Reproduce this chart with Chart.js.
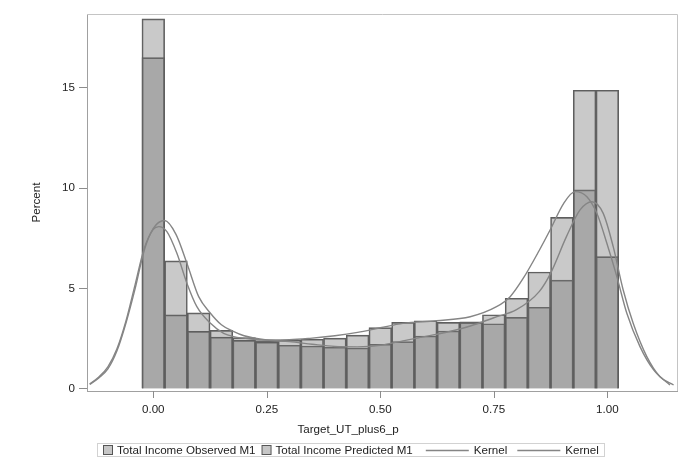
<!DOCTYPE html>
<html>
<head>
<meta charset="utf-8">
<script src="https://cdn.jsdelivr.net/npm/chart.js@4.4.0/dist/chart.umd.min.js"></script>
<style>
html,body{margin:0;padding:0;background:#fff;}
#wrap{width:682px;height:469px;position:relative;}
</style>
</head>
<body>
<div id="wrap"><canvas id="c" width="682" height="469"></canvas></div>
<script>
// ---- data ----
const binCenters = [0.00,0.05,0.10,0.15,0.20,0.25,0.30,0.35,0.40,0.45,0.50,0.55,0.60,0.65,0.70,0.75,0.80,0.85,0.90,0.95,1.00];
const observedPct = [18.44,6.38,3.79,2.92,2.56,2.41,2.18,2.14,2.08,2.04,2.23,2.36,2.64,2.89,3.30,3.25,3.57,4.07,5.42,9.92,14.88];
const predictedPct = [16.51,3.69,2.87,2.58,2.42,2.33,2.43,2.48,2.53,2.68,3.06,3.32,3.40,3.32,3.35,3.70,4.52,5.83,8.55,14.88,6.59];

const kernelObsX = [-0.14,-0.12,-0.10,-0.08,-0.06,-0.04,-0.02,0.00,0.025,0.05,0.075,0.10,0.125,0.15,0.175,0.20,0.25,0.30,0.35,0.40,0.45,0.50,0.55,0.60,0.65,0.70,0.75,0.80,0.85,0.875,0.91,0.94,0.966,0.991,1.013,1.035,1.057,1.087,1.116,1.146];
const kernelObsY = [0.23,0.55,1.0,1.9,3.3,5.0,6.9,8.0,8.39,7.7,6.2,4.6,3.8,3.2,2.88,2.65,2.44,2.36,2.23,2.12,2.10,2.18,2.40,2.62,2.85,3.15,3.55,3.95,4.85,5.76,7.59,8.92,9.33,8.75,7.09,4.93,3.27,1.61,0.61,0.20];

const kernelPredX = [-0.14,-0.12,-0.10,-0.08,-0.06,-0.04,-0.02,0.00,0.012,0.03,0.052,0.074,0.096,0.126,0.155,0.177,0.22,0.25,0.30,0.345,0.40,0.45,0.50,0.55,0.624,0.698,0.756,0.786,0.815,0.85,0.874,0.904,0.929,0.955,0.977,0.999,1.021,1.043,1.072,1.102,1.138];
const kernelPredY = [0.25,0.6,1.1,2.0,3.4,5.2,7.0,7.95,8.09,7.84,6.76,5.27,4.1,3.27,2.77,2.61,2.48,2.44,2.45,2.52,2.65,2.82,3.05,3.27,3.40,3.60,4.10,4.60,5.52,6.90,7.92,9.25,9.83,9.58,8.75,7.26,5.60,3.77,2.11,0.95,0.20];

const xTicks = [0, 0.25, 0.5, 0.75, 1.0];
const yTicks = [0, 5, 10, 15];
const xTitle = 'Target_UT_plus6_p';
const yTitle = 'Percent';
const seriesLabels = ['Total Income Observed M1', 'Total Income Predicted M1', 'Kernel', 'Kernel'];

// ---- styles ----
const FONT_FAMILY = '"Liberation Sans", Arial, Helvetica, sans-serif';
const FONT_SIZE = 11.6;
const TEXT_COLOR = '#222222';
const AXIS_COLOR = '#a0a0a0';
const TICK_COLOR = '#8c8c8c';
const BAR_FILL = 'rgba(120,120,120,0.40)';
const BAR_BORDER = '#5e5e5e';
const KERNEL_COLOR = '#858585';

const toXY = (xs, ys) => xs.map((x, i) => ({x: x, y: ys[i]}));

const framePlugin = {
  id: 'frameLegend',
  afterDraw(chart) {
    const ctx = chart.ctx;
    const a = chart.chartArea;
    ctx.save();
    // top & right frame
    ctx.strokeStyle = '#c4c4c4';
    ctx.lineWidth = 1;
    ctx.beginPath();
    ctx.moveTo(a.left, Math.round(a.top) + 0.5);
    ctx.lineTo(Math.round(a.right) + 0.5, Math.round(a.top) + 0.5);
    ctx.lineTo(Math.round(a.right) + 0.5, a.bottom);
    ctx.stroke();

    // x-axis tick marks at the tick values of the x scale
    const xs = chart.scales.x;
    ctx.strokeStyle = TICK_COLOR;
    ctx.lineWidth = 1;
    ctx.beginPath();
    xs.ticks.forEach(t => {
      const px = Math.round(xs.getPixelForValue(t.value)) + 0.5;
      ctx.moveTo(px, a.bottom);
      ctx.lineTo(px, a.bottom + 7);
    });
    ctx.stroke();

    // x-axis title (centred under the graph as in the reference)
    ctx.font = FONT_SIZE + 'px ' + FONT_FAMILY;
    ctx.fillStyle = TEXT_COLOR;
    ctx.textAlign = 'center';
    ctx.textBaseline = 'middle';
    ctx.fillText(xTitle, 348, 430);

    // legend
    ctx.textBaseline = 'middle';
    ctx.textAlign = 'left';
    const cy = 450;
    const items = [
      {type: 'box', text: seriesLabels[0]},
      {type: 'box', text: seriesLabels[1]},
      {type: 'line', text: seriesLabels[2]},
      {type: 'line', text: seriesLabels[3]}
    ];
    let x = 103;
    const startX = 97;
    items.forEach((it) => {
      const tw = ctx.measureText(it.text).width;
      if (it.type === 'box') {
        ctx.fillStyle = '#c6c6c6';
        ctx.fillRect(x + 0.5, cy - 4.5, 9, 9);
        ctx.strokeStyle = '#555555';
        ctx.lineWidth = 1;
        ctx.strokeRect(x + 0.5, cy - 4.5, 9, 9);
        x += 14;
        ctx.fillStyle = TEXT_COLOR;
        ctx.fillText(it.text, x, cy + 0.5);
        x += tw + 6;
      } else {
        x += 7;
        ctx.strokeStyle = KERNEL_COLOR;
        ctx.lineWidth = 1.3;
        ctx.beginPath();
        ctx.moveTo(x, cy + 0.5);
        ctx.lineTo(x + 43, cy + 0.5);
        ctx.stroke();
        x += 48;
        ctx.fillStyle = TEXT_COLOR;
        ctx.fillText(it.text, x, cy + 0.5);
        x += tw + 3;
      }
    });
    ctx.strokeStyle = '#d2d2d2';
    ctx.lineWidth = 1;
    ctx.strokeRect(startX + 0.5, 443.5, Math.round(x - startX + 2), 13);
    ctx.restore();
  }
};

const font = {family: FONT_FAMILY, size: FONT_SIZE};

new Chart(document.getElementById('c'), {
  data: {
    datasets: [
      {
        type: 'bar', label: seriesLabels[0],
        data: toXY(binCenters, observedPct),
        backgroundColor: BAR_FILL, borderColor: BAR_BORDER, borderWidth: 1,
        barPercentage: 1.0, categoryPercentage: 1.0, grouped: false, order: 3
      },
      {
        type: 'bar', label: seriesLabels[1],
        data: toXY(binCenters, predictedPct),
        backgroundColor: BAR_FILL, borderColor: BAR_BORDER, borderWidth: 1,
        barPercentage: 1.0, categoryPercentage: 1.0, grouped: false, order: 2
      },
      {
        type: 'line', label: seriesLabels[2],
        data: toXY(kernelObsX, kernelObsY),
        borderColor: KERNEL_COLOR, borderWidth: 1.4, pointRadius: 0,
        cubicInterpolationMode: 'monotone', fill: false, order: 1
      },
      {
        type: 'line', label: seriesLabels[3],
        data: toXY(kernelPredX, kernelPredY),
        borderColor: KERNEL_COLOR, borderWidth: 1.4, pointRadius: 0,
        cubicInterpolationMode: 'monotone', fill: false, order: 0
      }
    ]
  },
  options: {
    responsive: false,
    animation: false,
    layout: {padding: {top: 14, right: 5, bottom: 29, left: 0}},
    plugins: {legend: {display: false}, tooltip: {enabled: false}},
    scales: {
      x: {
        type: 'linear', min: -0.146, max: 1.1535, offset: false,
        afterBuildTicks: s => { s.ticks = xTicks.map(v => ({value: v})); },
        afterFit: s => { s.height = 49; },
        ticks: {callback: v => Number(v).toFixed(2), font: font, color: TEXT_COLOR, padding: 4, maxRotation: 0, autoSkip: false},
        grid: {display: false},
        border: {display: true, color: AXIS_COLOR},
        title: {display: false}
      },
      y: {
        type: 'linear', min: -0.1, max: 18.68,
        afterBuildTicks: s => { s.ticks = yTicks.map(v => ({value: v})); },
        afterFit: s => { s.width = 87; },
        ticks: {font: font, color: TEXT_COLOR, padding: 4},
        grid: {display: true, offset: false, drawOnChartArea: false, drawTicks: true, tickLength: 8, color: AXIS_COLOR, tickColor: TICK_COLOR},
        border: {display: true, color: AXIS_COLOR},
        title: {display: true, text: yTitle, font: font, color: TEXT_COLOR, padding: {top: 30, bottom: 0}}
      }
    }
  },
  plugins: [framePlugin]
});
</script>
</body>
</html>
